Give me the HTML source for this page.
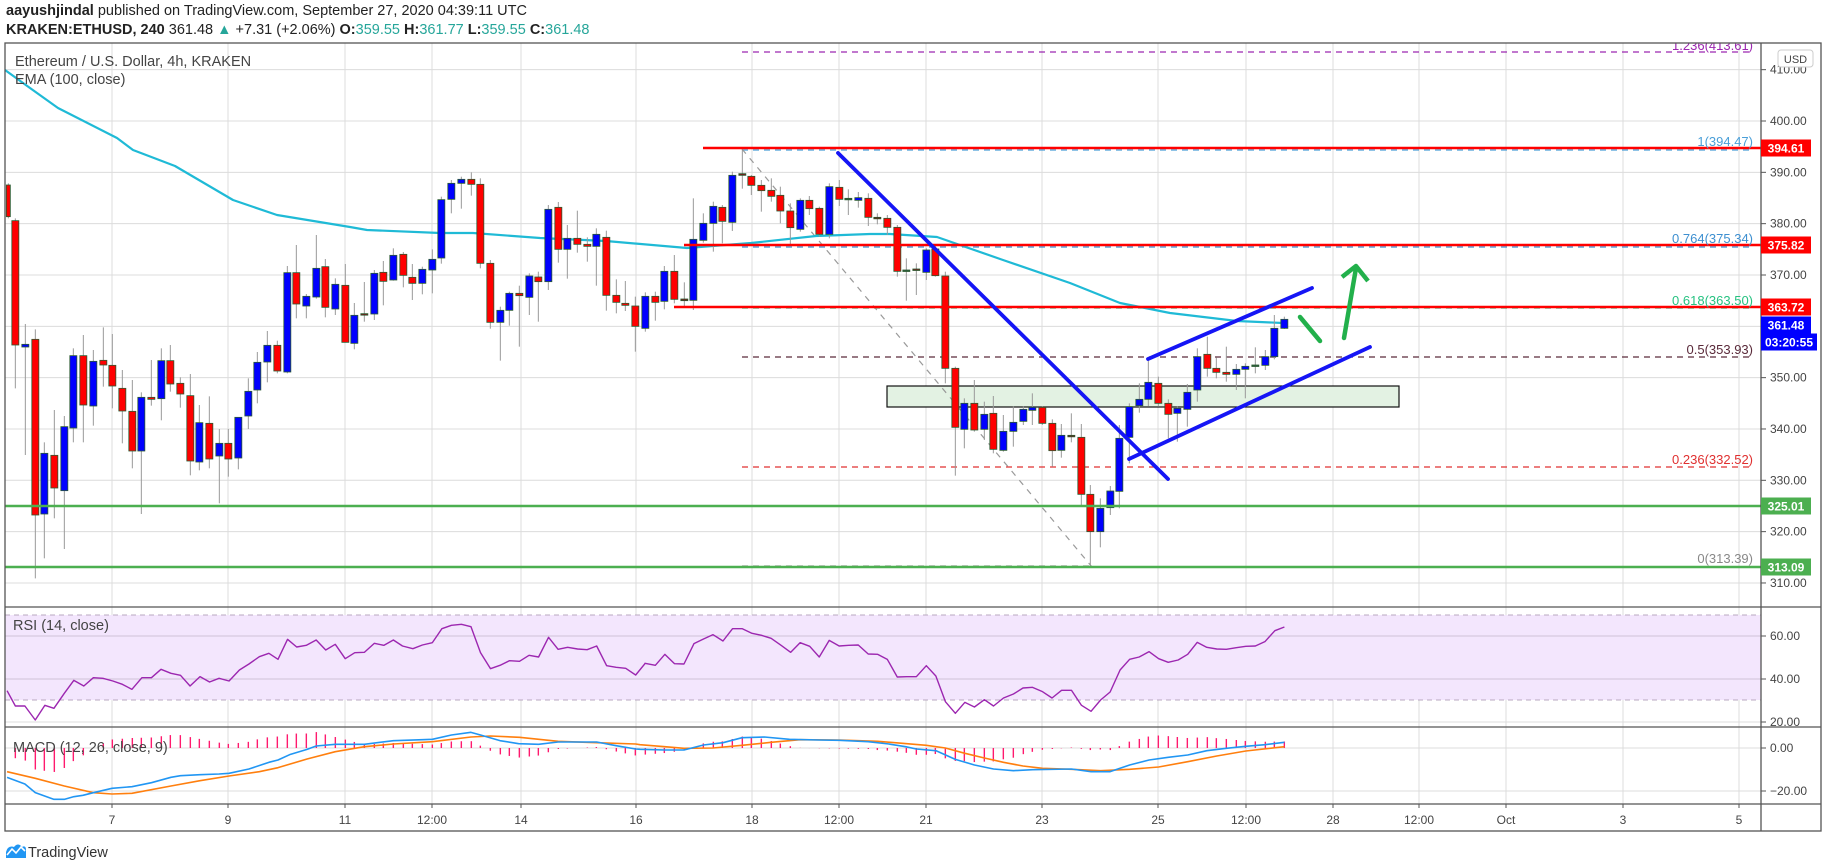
<!DOCTYPE html>
<html><head><meta charset="utf-8">
<style>
html,body{margin:0;padding:0;background:#fff;}
body{width:1828px;height:868px;overflow:hidden;position:relative;font-family:"Liberation Sans",sans-serif;}
.hdr{position:absolute;left:6px;font-size:14.5px;color:#222;white-space:nowrap;}
.t{color:#26a69a}
</style></head><body>
<div class="hdr" style="top:3px"><b>aayushjindal</b> published on TradingView.com, September 27, 2020 04:39:11 UTC</div>
<div class="hdr" style="top:22px"><b>KRAKEN:ETHUSD, 240</b> 361.48 <span class="t">▲</span> +7.31 (+2.06%) <b>O:</b><span class="t">359.55</span> <b>H:</b><span class="t">361.77</span> <b>L:</b><span class="t">359.55</span> <b>C:</b><span class="t">361.48</span></div>
<svg id="c" width="1828" height="868" style="position:absolute;left:0;top:0" xmlns="http://www.w3.org/2000/svg" font-family="Liberation Sans, sans-serif"></svg>
<script>
var S='';
function L(x1,y1,x2,y2,c,w,extra){S+='<line x1="'+x1+'" y1="'+y1+'" x2="'+x2+'" y2="'+y2+'" stroke="'+c+'" stroke-width="'+w+'" '+(extra||'')+'/>';}
function R(x,y,w,h,f,extra){S+='<rect x="'+x+'" y="'+y+'" width="'+w+'" height="'+h+'" fill="'+f+'" '+(extra||'')+'/>';}
function T(x,y,s,c,sz,anc,extra){S+='<text x="'+x+'" y="'+y+'" fill="'+c+'" font-size="'+(sz||12)+'" text-anchor="'+(anc||'start')+'" '+(extra||'')+'>'+s+'</text>';}
function P(pts,c,w){S+='<polyline fill="none" stroke="'+c+'" stroke-width="'+w+'" stroke-linejoin="round" points="'+pts.map(function(p){return p[0]+','+p[1]}).join(' ')+'"/>';}
var AX=1761,LEFT=5,RIGHT=1821;
S+='<defs><clipPath id="cp"><rect x="0" y="43" width="1828" height="800"/></clipPath></defs>';
var vx=[112,228,345,432,521,636,752,839,926,1042,1158,1246,1333,1419,1506,1623,1739];
vx.forEach(function(x){L(x,43,x,804,'#dcdcdc',1);});
function py(p){return 121+(400-p)*5.133;}
for(var p=310;p<=410;p+=10){L(LEFT,py(p),AX,py(p),'#dcdcdc',1);}
R(LEFT,615,AX-LEFT,85,'#f3e6fd');
L(LEFT,615,AX,615,'#b8a8c0',1,'stroke-dasharray="5,4"');
L(LEFT,700,AX,700,'#b8a8c0',1,'stroke-dasharray="5,4"');
[636,679].forEach(function(y){L(LEFT,y,AX,y,'#cfc2d6',1);});
L(LEFT,722,AX,722,'#dcdcdc',1);
[748,791].forEach(function(y){L(LEFT,y,AX,y,'#dcdcdc',1);});
R(887,386,512,21,'#e3f2e3','stroke="#111" stroke-width="1.2"');
L(742,52,1753,52,'#9c27b0',1.2,'stroke-dasharray="6,5"');
L(742,150,1753,150,'#4a9fd8',1.2,'stroke-dasharray="6,5"');
L(742,247,1753,247,'#3d8fd0',1.2,'stroke-dasharray="6,5"');
L(742,308,1753,308,'#26c281',1.2,'stroke-dasharray="6,5"');
L(742,357,1753,357,'#5a2a3a',1.2,'stroke-dasharray="6,5"');
L(742,467,1753,467,'#e03030',1.2,'stroke-dasharray="6,5"');
L(742,566,1092,566,'#999',1.2,'stroke-dasharray="6,5"');
L(742,149,1092,567,'#999',1.2,'stroke-dasharray="6,6"');
P([[5,70],[30,88],[58,108],[117,138],[133,150],[175,166],[233,200],[277,215],[350,227],[367,230],[440,233],[473,233],[540,238],[606,241],[687,248],[751,243],[816,236],[870,234],[890,234],[937,237],[1003,260],[1070,283],[1120,303],[1170,313],[1237,321],[1283,323]],'#1fbad6',2.2);
var G3=[[25,105,200,'r',100,205],[46,212,585,'r',205,715],[76,583,591,'b',522,915],[106,568,1095,'r',538,1285],[133,910,1092,'b',877,1225],[163,916,1014,'r',780,1105],[193,830,1022,'b',798,1197],[220,617,834,'b',595,877],[250,617,765,'r',555,877],[280,634,768,'b',600,827],[310,631,645,'r',532,710],[337,646,708,'r',552,775],[367,715,783,'r',660,880],[397,784,903,'r',690,955],[424,742,903,'b',727,1092],[454,742,748,'r',630,767],[484,632,746,'b',595,811],[511,632,702,'r',585,725],[541,700,732,'r',682,773],[571,737,933,'r',672,976],[598,818,936,'b',765,961],[628,820,927,'r',739,955],[658,880,918,'b',837,1060],[685,880,927,'r',837,980],[715,802,924,'b',812,958],[745,724,798,'b',685,837],[772,637,720,'b',606,760],[802,586,636,'b',543,697],[832,586,663,'r',572,670],[862,368,666,'b',348,670],[889,368,462,'r',285,505],[919,439,468,'b',432,505],[949,355,441,'b',255,446],[976,350,472,'r',327,502],[1006,403,477,'b',385,495],[1036,406,577,'r',342,577],[1063,496,580,'b',459,598],[1093,491,495,'d',396,515],[1123,370,492,'b',360,510],[1150,367,394,'r',333,466],[1180,316,390,'b',295,392],[1210,313,376,'r',306,412],[1237,382,400,'r',342,450],[1267,358,400,'b',350,433],[1297,328,360,'b',298,430],[1324,149,324,'b',140,341]];
var G4=[[34,160,208,'b',150,250],[64,148,160,'b',140,236],[94,148,163,'r',127,197],[121,163,400,'r',145,415],[151,400,577,'r',390,596],[181,541,577,'b',530,692],[208,490,541,'b',485,587],[238,490,497,'r',467,650],[268,438,502,'b',430,555],[295,441,455,'r',425,575],[325,238,455,'b',225,480],[355,232,358,'r',216,398],[382,325,358,'b',285,446],[412,325,343,'r',242,368],[442,343,349,'r',322,395],[469,313,349,'b',295,467],[499,322,496,'r',302,542],[529,496,517,'r',448,550],[556,520,526,'r',453,543],[586,528,589,'r',500,665],[616,499,595,'b',487,605],[646,499,517,'r',485,572],[673,424,514,'b',408,538],[703,424,508,'r',375,520],[733,507,512,'d',457,530],[760,328,511,'b',205,540],[790,280,331,'b',250,338],[820,229,280,'b',215,365],[847,232,274,'r',225,340],[877,136,277,'b',125,303],[907,131,136,'d',57,176],[934,139,166,'r',135,195],[964,166,182,'r',150,245],[994,181,199,'r',145,215],[1021,196,243,'r',170,280],[1051,243,293,'r',220,345],[1081,211,298,'b',205,305],[1108,211,236,'r',198,255],[1138,235,313,'r',230,320],[1168,170,313,'b',160,325],[1198,172,208,'r',150,228],[1225,205,209,'g',178,255],[1255,203,211,'b',186,233],[1285,205,262,'r',190,288],[1312,262,266,'d',250,283],[1342,265,292,'r',255,315]];
var G5=[[82,292,424,'r',285,440],[109,420,424,'g',385,512],[139,417,421,'d',400,495],[169,360,427,'b',355,450],[196,357,437,'r',345,440],[226,438,715,'r',425,760],[256,715,892,'r',710,1037],[283,820,898,'b',805,955],[313,820,900,'r',750,905],[343,853,898,'b',815,930],[370,850,958,'r',798,970],[400,904,961,'b',855,965],[430,877,904,'b',830,950],[460,838,874,'b',830,885],[487,832,841,'b',790,885],[517,832,880,'r',830,885],[547,880,962,'r',868,1010],[574,916,961,'b',882,983],[604,916,920,'d',850,937],[634,922,1093,'r',882,1125],[661,1093,1205,'r',1065,1308],[691,1135,1205,'b',1105,1252],[721,1083,1133,'b',1068,1155],[748,925,1084,'b',885,1135],[778,830,922,'b',820,1000],[808,808,827,'b',760,848],[835,757,808,'b',690,828],[865,760,820,'r',740,830],[895,820,853,'r',808,925],[922,835,850,'b',830,935],[952,787,838,'b',762,890],[982,680,780,'b',655,815],[1012,673,715,'r',620,740],[1039,715,727,'r',683,745],[1069,727,733,'r',650,755],[1099,718,733,'b',702,780],[1126,709,718,'b',700,805],[1156,705,709,'g',652,730],[1186,680,706,'b',660,720],[1213,595,680,'b',555,688],[1243,568,595,'b',560,597]];
var CX=[];
function draw(G,ox,oy){G.forEach(function(c){var x=ox+c[0]/3,t=oy+c[1]/3,b=oy+c[2]/3,wt=oy+c[4]/3,wb=oy+c[5]/3;CX.push(x);
L(x,wt,x,wb,'#999',1);
var col=c[3]=='r'?'#ff0000':c[3]=='b'?'#0000ff':c[3]=='g'?'#2e5e3e':'#7a1a1a';
var h=Math.max(b-t,1.5);var w=c[0]<30&&G===G3?4:7;
R(x-w/2,t,w,h,col,'stroke="#2a5a30" stroke-width="0.8"');});}
draw(G3,0,150);draw(G4,440,130);draw(G5,870,130);
L(703,148,AX,148,'#ff0000',2.6);
L(684,245,AX,245,'#ff0000',2.6);
L(674,307,AX,307,'#ff0000',2.6);
L(LEFT,506,AX,506,'#4caf50',2.6);
L(LEFT,567,AX,567,'#4caf50',2.6);
L(838,153,1168,479,'#1515f5',3.8,'stroke-linecap="round"');
L(1148,359,1312,288,'#1515f5',3.8,'stroke-linecap="round"');
L(1129,459,1370,347,'#1515f5',3.8,'stroke-linecap="round"');
L(1300,317,1320,341,'#22b04b',4.5,'stroke-linecap="round"');
L(1344,338,1356,268,'#22b04b',4.5,'stroke-linecap="round"');
P([[1342,277],[1356,266],[1368,281]],'#22b04b',4.5);
T(1753,50,'1.236(413.61)','#9c27b0',13,'end','clip-path="url(#cp)"');
T(1753,146,'1(394.47)','#4a9fd8',13,'end');
T(1753,243,'0.764(375.34)','#3d8fd0',13,'end');
T(1753,305,'0.618(363.50)','#26c281',13,'end');
T(1753,354,'0.5(353.93)','#5a2a3a',13,'end');
T(1753,464,'0.236(332.52)','#e03030',13,'end');
T(1753,563,'0(313.39)','#888',13,'end');
var r7=[[17,272],[37,318],[60,318],[85,360],[108,316],[130,325],[155,280],[178,241],[202,258],[225,233],[248,235],[272,243],[295,253],[318,268],[342,233],[365,233],[388,208],[412,220],[435,226],[458,258],[482,230],[505,246],[528,235],[552,243],[577,210],[600,192],[625,170],[648,160],[670,178],[693,118],[715,141],[738,136],[762,120],[785,150],[808,133],[832,176],[855,158],[878,157],[902,130],[925,136],[948,120],[970,138],[995,146],[1018,135],[1042,128],[1065,86],[1088,76],[1112,73],[1135,80],[1158,158],[1182,206],[1205,196],[1228,182],[1252,184],[1275,166],[1298,171],[1322,112],[1345,148],[1368,142],[1392,147],[1415,149],[1438,138],[1462,197],[1485,202],[1508,205],[1532,225],[1555,190]];
var r8=[[12,190],[37,196],[60,163],[83,191],[106,192],[130,131],[153,117],[176,104],[200,123],[223,86],[246,86],[270,100],[293,106],[316,115],[340,136],[363,157],[386,128],[409,139],[432,171],[456,121],[480,138],[503,136],[526,135],[550,162],[573,163],[596,178],[620,231],[643,230],[666,230],[690,197],[713,228],[736,305],[760,340],[783,307],[806,321],[830,299],[852,318],[876,294],[900,282],[923,264],[946,262],[970,275],[993,294],[1016,271],[1040,271],[1064,316],[1087,334],[1110,300],[1133,276],[1157,210],[1180,178],[1203,171],[1227,155],[1250,176],[1273,187],[1297,180],[1320,163],[1343,127],[1366,142],[1390,147],[1413,148],[1437,143],[1460,139],[1483,138],[1506,125],[1530,92],[1553,81]];
function cv(a,ox){return a.map(function(p){return [ox+p[0]/2.41,600+p[1]/3];});}
var rsi=cv(r7,0).concat(cv(r8,640));
P(rsi,'#9c27b0',1.4);
var b7=[[17,532],[60,552],[85,578],[130,598],[155,598],[178,590],[200,586],[225,578],[270,565],[318,560],[365,548],[412,532],[435,527],[482,524],[528,522],[552,520],[600,507],[648,487],[670,480],[700,463],[740,448],[762,438],[808,433],[878,433],[948,422],[1018,419],[1042,418],[1088,405],[1135,397],[1158,405],[1205,422],[1250,431],[1298,433],[1345,426],[1438,426],[1485,437],[1532,447]];
var b8=[[0,448],[60,450],[106,450],[153,435],[200,428],[246,413],[300,411],[360,418],[432,420],[480,421],[550,425],[600,432],[640,440],[666,447],[713,452],[760,478],[806,495],[852,507],[900,512],[946,509],[1040,507],[1087,515],[1133,515],[1180,495],[1227,480],[1273,472],[1320,465],[1366,452],[1413,445],[1460,439],[1506,434],[1553,427]];
var o7=[[17,515],[85,535],[155,558],[225,578],[270,582],[318,580],[412,558],[482,542],[552,528],[625,515],[670,503],[740,477],[808,455],[878,440],[948,432],[1042,425],[1135,411],[1182,408],[1252,412],[1345,424],[1438,428],[1532,432]];
var o8=[[0,434],[60,440],[106,445],[176,444],[246,436],[316,427],[386,419],[480,420],[573,424],[643,431],[690,436],[736,444],[783,460],[830,474],[876,487],[923,498],[970,505],[1040,508],[1110,512],[1180,508],[1250,501],[1320,485],[1390,468],[1460,453],[1553,440]];
var bl=cv(b7,0).concat(cv(b8,640)),ol=cv(o7,0).concat(cv(o8,640));
function ip(a,x){for(var i=0;i<a.length-1;i++){if(x>=a[i][0]&&x<=a[i+1][0]){var f=(x-a[i][0])/(a[i+1][0]-a[i][0]);return a[i][1]+f*(a[i+1][1]-a[i][1]);}}return x<a[0][0]?a[0][1]:a[a.length-1][1];}
CX.forEach(function(x){if(x<12)return;var d=(ip(ol,x)-ip(bl,x))*1.5;L(x,748,x,748-d,'#ff1a6e',1.4);});
P(ol,'#ff7f0e',1.6);
P(bl,'#2196f3',1.6);
L(LEFT,607,RIGHT,607,'#555',1.3);
L(LEFT,727,RIGHT,727,'#555',1.3);
L(LEFT,804,RIGHT,804,'#555',1.3);
L(AX,43,AX,831,'#555',1.3);
R(LEFT,43,RIGHT-LEFT,788,'none','stroke="#555" stroke-width="1.3"');
for(var p=310;p<=410;p+=10){var y=py(p);L(AX,y,AX+5,y,'#555',1);T(1770,y+4,p.toFixed(2),'#444',12);}
[[636,'60.00'],[679,'40.00'],[722,'20.00'],[748,'0.00'],[791,'\u221220.00']].forEach(function(a){L(AX,a[0],AX+5,a[0],'#555',1);T(1770,a[0]+4,a[1],'#444',12);});
R(1778,50,35,17,'#fff','rx="3" stroke="#ccc" stroke-width="1"');T(1795.5,63,'USD','#444',11,'middle');
function box(y,txt,col,w){R(AX,y-8.5,w||50,17,col);T(AX+(w||50)/2,y+4.5,txt,'#fff',12,'middle','font-weight="bold"');}
box(148,'394.61','#ff0000');box(245,'375.82','#ff0000');box(307,'363.72','#ff0000');box(325,'361.48','#0000ff');box(342,'03:20:55','#0000ff',56);
box(506,'325.01','#4caf50');box(567,'313.09','#4caf50');
var tl=[[112,'7'],[228,'9'],[345,'11'],[432,'12:00'],[521,'14'],[636,'16'],[752,'18'],[839,'12:00'],[926,'21'],[1042,'23'],[1158,'25'],[1246,'12:00'],[1333,'28'],[1419,'12:00'],[1506,'Oct'],[1623,'3'],[1739,'5']];
tl.forEach(function(a){L(a[0],804,a[0],808,'#555',1);T(a[0],824,a[1],'#444',12,'middle');});
T(15,66,'Ethereum / U.S. Dollar, 4h, KRAKEN','#444',14.5);
T(15,84,'EMA (100, close)','#444',14.5);
T(13,630,'RSI (14, close)','#444',14.5);
T(13,752,'MACD (12, 26, close, 9)','#444',14.5);
S+='<path d="M6 858 L6 852 Q8 845 14 847 Q18 842 22 847 Q26 845 26 850 L26 858 Z" fill="#2196f3"/>';
S+='<polyline points="7,855 12,849 16,853 21,847 25,851" fill="none" stroke="#fff" stroke-width="1.6"/>';
T(28,857,'TradingView','#333',14.5);
document.getElementById('c').innerHTML=S;
</script>
</body></html>
